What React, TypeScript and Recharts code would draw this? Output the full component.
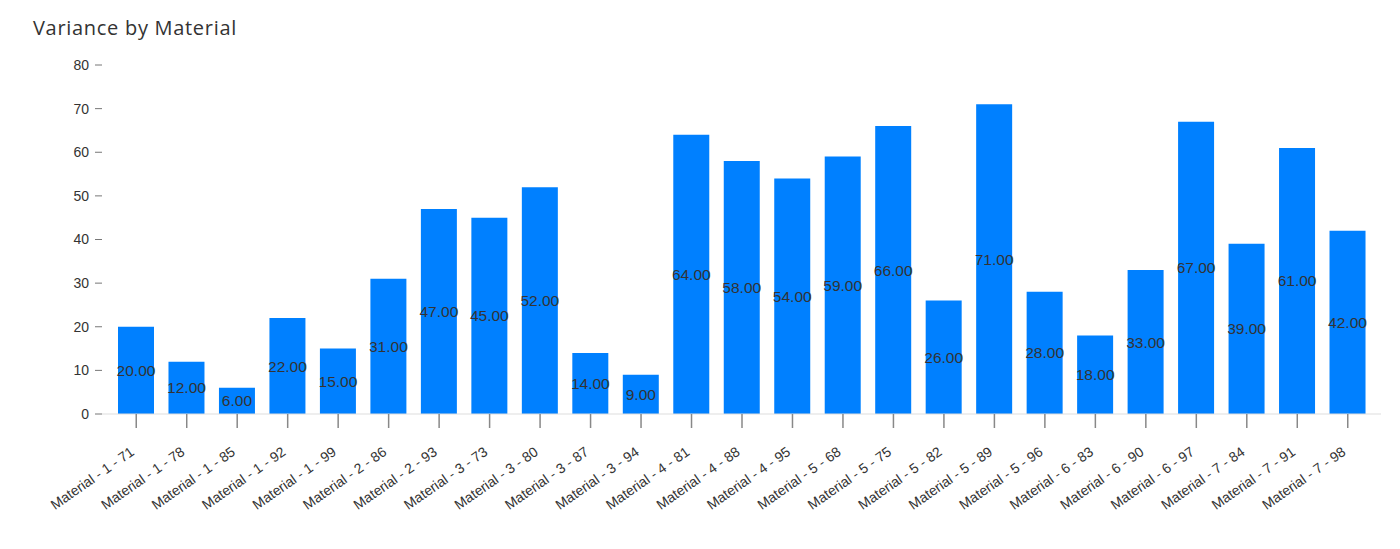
import React from "react";
import { Bar, BarChart, LabelList, XAxis, YAxis } from "recharts";

const materials = [
  "Material - 1 - 71",
  "Material - 1 - 78",
  "Material - 1 - 85",
  "Material - 1 - 92",
  "Material - 1 - 99",
  "Material - 2 - 86",
  "Material - 2 - 93",
  "Material - 3 - 73",
  "Material - 3 - 80",
  "Material - 3 - 87",
  "Material - 3 - 94",
  "Material - 4 - 81",
  "Material - 4 - 88",
  "Material - 4 - 95",
  "Material - 5 - 68",
  "Material - 5 - 75",
  "Material - 5 - 82",
  "Material - 5 - 89",
  "Material - 5 - 96",
  "Material - 6 - 83",
  "Material - 6 - 90",
  "Material - 6 - 97",
  "Material - 7 - 84",
  "Material - 7 - 91",
  "Material - 7 - 98",
];

const variance = [20, 12, 6, 22, 15, 31, 47, 45, 52, 14, 9, 64, 58, 54, 59, 66, 26, 71, 28, 18, 33, 67, 39, 61, 42];

const yTicks = [0, 10, 20, 30, 40, 50, 60, 70, 80];

const rows = materials.map((name, i) => ({ name, value: variance[i] }));

const FONT = '"Liberation Sans", Arial, Helvetica, sans-serif';

// rotated category label, anchored at its end under the tick
function MaterialTick({ x, y, payload }: any) {
  return (
    <g transform={`translate(${x - 1},${y + 24})`}>
      <text
        x={0}
        y={0}
        textAnchor="end"
        transform="rotate(-35)"
        fill="#333"
        fontSize={14}
        fontFamily={FONT}
      >
        {payload.value}
      </text>
    </g>
  );
}

export default function App() {
  return (
    <div style={{ position: "relative", width: 1384, height: 533, fontFamily: FONT }}>
      <div
        style={{
          position: "absolute",
          left: 25,
          top: 6,
          fontSize: 20,
          letterSpacing: 0.7,
          color: "#333",
          fontFamily: '"Open Sans", Lato, sans-serif',
        }}
      >
        Variance by Material
      </div>
      <BarChart width={1384} height={533} data={rows} margin={{ top: 57, right: 11, left: 0, bottom: 0 }}>
        <XAxis
          dataKey="name"
          interval={0}
          height={127}
          padding={{ left: 9, right: 8 }}
          axisLine={{ stroke: "#ddd" }}
          tickLine={{ stroke: "#888", strokeWidth: 1.5 }}
          tickSize={14}
          tick={<MaterialTick />}
        />
        <YAxis
          width={94}
          domain={[0, 80]}
          ticks={yTicks}
          axisLine={false}
          tickLine={{ stroke: "#777" }}
          tickSize={7}
          tickMargin={6}
          tick={{ fill: "#333", fontSize: 14, fontFamily: FONT }}
        />
        <Bar dataKey="value" fill="#0080ff" barSize={36} isAnimationActive={false}>
          <LabelList
            dataKey="value"
            position="center"
            formatter={(v: any) => Number(v).toFixed(2)}
            fill="#333"
            fontSize={15.5}
            fontFamily={FONT}
          />
        </Bar>
      </BarChart>
    </div>
  );
}
